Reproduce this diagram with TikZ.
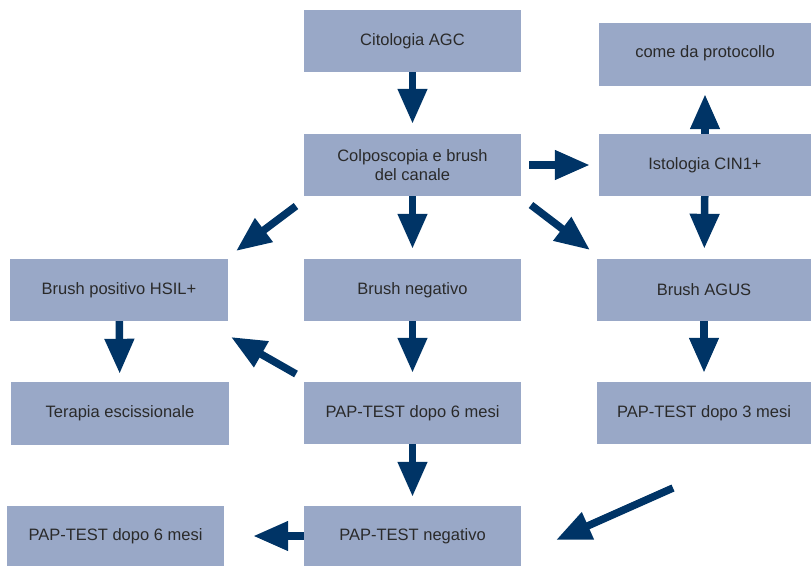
\documentclass[tikz,border=0pt]{standalone}
\usepackage{fontspec}
\setmainfont{Liberation Sans}
\usetikzlibrary{arrows.meta}
\definecolor{boxfill}{HTML}{99A8C7}
\definecolor{arrowc}{HTML}{003466}
\definecolor{txtc}{HTML}{2A2A2A}
\tikzset{
  box/.style={fill=boxfill, draw=none, inner sep=0pt, text=txtc, align=center,
    font=\fontsize{16.5}{19}\selectfont, minimum width=217pt, minimum height=62pt},
  boxr/.style={box, minimum width=212pt},
  arr/.style={draw=arrowc, line width=7.5pt, -{Triangle[length=35pt,width=28pt]}},
}
\begin{document}
\begin{tikzpicture}[x=1pt,y=-1pt]
\useasboundingbox (0,0) rectangle (811,566);
% boxes
\node[box] (cit) at (412.5,41) {Citologia AGC};
\node[box] (col) at (412.5,165) {Colposcopia e brush\\del canale};
\node[boxr, minimum height=63pt] (pro) at (705,54.5) {\raisebox{6pt}{come da protocollo}};
\node[boxr] (ist) at (705,165) {Istologia CIN1+};
\node[box, minimum width=218pt] (pos) at (119,290) {Brush positivo HSIL+};
\node[box] (neg) at (412.5,290) {Brush negativo};
\node[box, minimum width=214pt] (agus) at (704,290) {Brush AGUS};
\node[box, minimum width=218pt, minimum height=63pt] (ter) at (120,413.5) {Terapia escissionale};
\node[box] (pap6) at (412.5,413) {PAP-TEST dopo 6 mesi};
\node[box, minimum width=214pt] (pap3) at (704,413) {PAP-TEST dopo 3 mesi};
\node[box, minimum height=60pt] (pap6b) at (115.5,536) {PAP-TEST dopo 6 mesi};
\node[box, minimum height=60pt] (papneg) at (412.5,536) {PAP-TEST negativo};
% free ends of the diagonal arrows
\coordinate (d1s) at (296,206);
\coordinate (d1e) at (236,251);
\coordinate (d2s) at (531,205);
\coordinate (d2e) at (590,250);
\coordinate (d3s) at (296,374);
\coordinate (d3e) at (231,337);
\coordinate (d4s) at (673,488);
\coordinate (d4e) at (556,540);
% straight arrows
\draw[arr, shorten >=10pt] (cit) -- (col);
\draw[arr, shorten >=10pt] (col) -- (neg);
\draw[arr, shorten <=8pt, shorten >=9pt] (col) -- (ist);
\draw[arr, shorten >=8pt] (ist) -- (pro);
\draw[arr, shorten >=10pt] (ist) -- (agus);
\draw[arr, shorten >=8pt] (pos) -- (ter);
\draw[arr, shorten >=9pt] (neg) -- (pap6);
\draw[arr, shorten >=9pt] (agus) -- (pap3);
\draw[arr, shorten >=9pt] (pap6) -- (papneg);
\draw[arr, shorten >=29pt] (papneg) -- (pap6b);
% diagonal arrows
\draw[arr] (d1s) -- (d1e);
\draw[arr] (d2s) -- (d2e);
\draw[arr] (d3s) -- (d3e);
\draw[arr] (d4s) -- (d4e);
\end{tikzpicture}
\end{document}
